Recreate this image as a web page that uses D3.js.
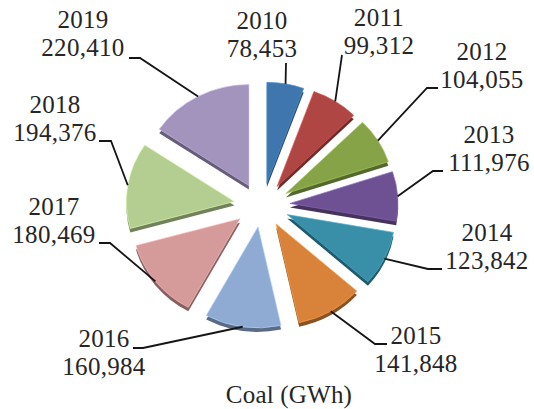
<!DOCTYPE html>
<html>
<head>
<meta charset="utf-8">
<script src="https://d3js.org/d3.v7.min.js"></script>
<style>
html, body { margin: 0; padding: 0; background: #fff; }
svg { display: block; }
text { font-family: "Liberation Serif", serif; fill: #262626; }
</style>
</head>
<body>
<div id="chart"></div>
<script>
var aYears = ["2010", "2011", "2012", "2013", "2014", "2015", "2016", "2017", "2018", "2019"];
var aCoal = [78453, 99312, 104055, 111976, 123842, 141848, 160984, 180469, 194376, 220410];
var aColors = ["#3f76ad", "#b04643", "#86a447", "#6d5193", "#3a8fa8", "#d9823a", "#8faad3", "#d49b9a", "#b4cd90", "#a294bc"];
var sTitle = "Coal (GWh)";

// label centre x and first baseline, same order as the years
var aLabelPos = [
    [262, 29], [379, 26], [482, 60], [489, 143], [487, 241],
    [416, 344], [104, 347], [54, 215], [55, 113], [83, 28]
];
// leader line points after the start on the slice edge
var aBends = [
    [[286, 63]],
    [[342, 55]],
    [[427, 88], [438, 88]],
    [[433, 171], [443, 171]],
    [[428, 269], [442, 269]],
    [[375, 344], [387, 344]],
    [[143, 348], [133, 348]],
    [[110, 243], [99, 243]],
    [[111, 141], [99, 141]],
    [[140, 58], [129, 58]]
];

var w = 534, h = 409;
var cx = 262, cy = 205;
var rx = 108, ry = 101;
var explodeX = 28, explodeY = 22;
var depth = 4;

var svg = d3.select("#chart").append("svg").attr("width", w).attr("height", h);

var pie = d3.pie().sort(null);
var arcs = pie(aCoal);
var arc = d3.arc().innerRadius(0).outerRadius(rx);
var tilt = ry / rx;

function midAngle(d) { return (d.startAngle + d.endAngle) / 2; }
function sliceX(d) { return cx + explodeX * Math.sin(midAngle(d)); }
function sliceY(d) { return cy - explodeY * Math.cos(midAngle(d)); }

// side wall first, then the top face
var slices = svg.selectAll("g.slice").data(arcs).enter().append("g")
    .attr("class", "slice");

slices.append("path")
    .attr("d", arc)
    .attr("transform", function(d) {
        return "translate(" + sliceX(d) + "," + (sliceY(d) + depth) + ") scale(1," + tilt + ")";
    })
    .attr("fill", function(d, i) { return d3.color(aColors[i]).darker(1.3); });

slices.append("path")
    .attr("d", arc)
    .attr("transform", function(d) {
        return "translate(" + sliceX(d) + "," + sliceY(d) + ") scale(1," + tilt + ")";
    })
    .attr("fill", function(d, i) { return aColors[i]; })
    .attr("stroke", function(d, i) { return d3.color(aColors[i]).brighter(0.6); })
    .attr("stroke-width", 0.7);

// leader lines start on the outer edge of each slice
svg.selectAll("path.leader").data(arcs).enter().append("path")
    .attr("class", "leader")
    .attr("d", function(d, i) {
        var a = midAngle(d);
        var start = [sliceX(d) + rx * Math.sin(a), sliceY(d) - ry * Math.cos(a)];
        return d3.line()([start].concat(aBends[i]));
    })
    .attr("fill", "none")
    .attr("stroke", "#151515")
    .attr("stroke-width", 1.8);

var labels = svg.selectAll("text.label").data(arcs).enter().append("text")
    .attr("class", "label")
    .attr("text-anchor", "middle")
    .attr("font-size", "25px")
    .attr("letter-spacing", "0.3px");

labels.append("tspan")
    .attr("x", function(d, i) { return aLabelPos[i][0]; })
    .attr("y", function(d, i) { return aLabelPos[i][1]; })
    .text(function(d, i) { return aYears[i]; });

labels.append("tspan")
    .attr("x", function(d, i) { return aLabelPos[i][0]; })
    .attr("y", function(d, i) { return aLabelPos[i][1] + 28; })
    .text(function(d) { return d3.format(",")(d.value); });

svg.append("text")
    .text(sTitle)
    .attr("x", 289)
    .attr("y", 403)
    .attr("text-anchor", "middle")
    .attr("font-size", "25px")
    .attr("letter-spacing", "0.2px");
</script>
</body>
</html>
